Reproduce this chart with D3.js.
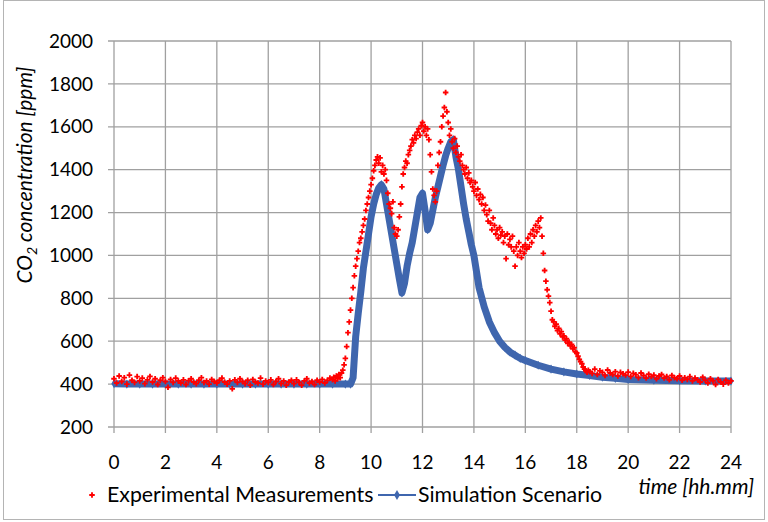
<!DOCTYPE html>
<html>
<head>
<meta charset="utf-8">
<script src="https://cdn.jsdelivr.net/npm/d3@7"></script>
<style>
  body { margin: 0; background: #fff; }
  text { font-family: Lato, "Open Sans", sans-serif; fill: #000; }
</style>
</head>
<body>
<div id="chart"></div>
<script>
// tick labels
xTicks = [0, 2, 4, 6, 8, 10, 12, 14, 16, 18, 20, 22, 24];
yTicks = [200, 400, 600, 800, 1000, 1200, 1400, 1600, 1800, 2000];

// simulation scenario (time in hours, CO2 ppm)
simTime = [0, 0.5, 1, 1.5, 2, 2.5, 3, 3.5, 4, 4.5, 5, 5.5, 6, 6.5, 7, 7.5, 8, 8.5, 9, 9.2,
    9.3, 9.4, 9.5, 9.6, 9.7, 9.8, 9.9, 10.0, 10.1, 10.2, 10.3, 10.4, 10.5, 10.6, 10.7, 10.8, 10.9,
    11.0, 11.1, 11.2, 11.3, 11.4, 11.5, 11.6, 11.7, 11.8, 11.9, 12.0, 12.1, 12.2, 12.3, 12.4, 12.5,
    12.6, 12.7, 12.8, 12.9, 13.0, 13.1, 13.2, 13.3, 13.4, 13.5, 13.6, 13.7, 13.8, 13.9, 14.0, 14.2,
    14.4, 14.6, 14.8, 15.0, 15.2, 15.4, 15.6, 15.8, 16.0, 16.5, 17.0, 17.5, 18.0, 18.5, 19.0, 19.5,
    20.0, 21, 22, 23, 24];
simValue = [402, 400, 400, 400, 400, 400, 400, 400, 400, 400, 400, 400, 400, 400, 400, 400, 400, 400, 400, 400,
    430, 620, 730, 830, 940, 1020, 1100, 1180, 1240, 1285, 1315, 1330, 1310, 1240, 1170, 1100, 1030,
    960, 890, 825, 870, 950, 1010, 1060, 1130, 1200, 1270, 1290, 1210, 1120, 1150, 1210, 1270,
    1320, 1370, 1420, 1465, 1500, 1530, 1540, 1460, 1400, 1320, 1240, 1170, 1110, 1050, 1000, 850,
    760, 690, 640, 600, 572, 550, 535, 520, 510, 488, 470, 457, 447, 440, 432, 427,
    422, 418, 416, 415, 414];

// experimental measurements, night before occupation (from 0 h, every 0.1 h)
expStart = [425, 405, 438, 412, 430, 400, 442, 418, 408, 435,
    415, 428, 402, 420, 436, 410, 425, 398, 418, 430,
    412, 385, 422, 408, 428, 415, 405, 420, 398, 416,
    425, 410, 402, 418, 430, 408, 415, 400, 422, 412,
    405, 418, 428, 410, 400, 415, 378, 420, 408, 425,
    412, 402, 418, 395, 422, 410, 405, 428, 400, 415,
    408, 420, 398, 412, 425, 402, 415, 395, 410, 418,
    402, 420, 408, 395, 415, 425, 405, 412, 398, 418,
    410, 422, 405, 418, 428];

// experimental measurements, occupied period (from 8.5 h, every 0.05 h)
expMid = [420, 432, 415, 438, 425, 445, 430, 452, 465, 490,
    520, 575, 640, 690, 745, 800, 850, 905, 950, 985,
    1020, 1060, 1080, 1110, 1140, 1170, 1210, 1240, 1270, 1300,
    1330, 1360, 1395, 1420, 1445, 1460, 1430, 1455, 1390, 1420,
    1380, 1400, 1350, 1290, 1240, 1220, 1195, 1250, 1130, 1100,
    1090, 1120, 1180, 1240, 1320, 1380, 1410, 1440, 1430, 1470,
    1490, 1510, 1540, 1525, 1560, 1545, 1575, 1590, 1560, 1605,
    1620, 1580, 1600, 1560, 1590, 1540, 1470, 1390, 1310, 1280,
    1250, 1300, 1420, 1480, 1530, 1600, 1650, 1690, 1760, 1670,
    1620, 1560, 1590, 1530, 1500, 1545, 1480, 1510, 1460, 1440,
    1470, 1420, 1400, 1380, 1410, 1360, 1385, 1340, 1350, 1320,
    1300, 1340, 1280, 1310, 1260, 1285, 1240, 1270, 1210, 1235,
    1190, 1160, 1210, 1150, 1120, 1175, 1140, 1100, 1120, 1080,
    1130, 1095, 1110, 1060, 1090, 985, 1100, 1050, 1075, 1040,
    1090, 1020, 950, 1040, 1000, 1060, 1020, 990, 1040, 1010,
    1050, 1030, 1080, 1040, 1100, 1060, 1120, 1090, 1140, 1110,
    1160, 1130, 1175, 1090, 1010, 930, 880, 840, 810, 780,
    740, 700, 690, 670, 680, 650, 660, 635, 645, 620,
    625, 605, 612, 590, 596, 578, 585, 565, 570, 550,
    545, 530, 515, 505, 495, 480, 470, 462, 455, 465,
    458];

// experimental measurements, evening (from 18.6 h, every 0.1 h)
expEnd = [450, 470, 445, 462, 455, 440, 466, 452, 445, 458,
    438, 455, 448, 442, 456, 436, 450, 444, 430, 452,
    440, 428, 446, 435, 442, 425, 438, 445, 428, 436,
    420, 440, 430, 425, 438, 418, 430, 422, 435, 415,
    428, 420, 410, 432, 418, 405, 425, 415, 398, 422,
    410, 400, 418, 405, 415];

width = 768;
height = 522;
plot = { left: 114, right: 731, top: 41, bottom: 427 };
gridColor = "#a0a0a0";
redColor = "#ff0000";
blueColor = "#3f66ae";

/* Scale */
xScale = d3.scaleLinear().domain([0, 24]).range([plot.left, plot.right]);
yScale = d3.scaleLinear().domain([200, 2000]).range([plot.bottom, plot.top]);

svg = d3.select("#chart").append("svg")
    .attr("width", width)
    .attr("height", height);

/* chart border */
svg.append("rect")
    .attr("x", 3.5).attr("y", 0.5)
    .attr("width", 761).attr("height", 519)
    .attr("fill", "none")
    .attr("stroke", "#b4b4b4")
    .attr("stroke-width", 1);

/* grid */
svg.append("g").selectAll("line")
    .data(yTicks).enter()
    .append("line")
    .attr("x1", plot.left - 6).attr("x2", plot.right)
    .attr("y1", d => yScale(d)).attr("y2", d => yScale(d))
    .attr("stroke", gridColor).attr("stroke-width", 1.3);

svg.append("g").selectAll("line")
    .data(xTicks).enter()
    .append("line")
    .attr("x1", d => xScale(d)).attr("x2", d => xScale(d))
    .attr("y1", plot.top).attr("y2", plot.bottom + 6)
    .attr("stroke", gridColor).attr("stroke-width", 1.3);

/* tick labels */
svg.append("g").selectAll("text")
    .data(yTicks).enter()
    .append("text")
    .attr("x", 93)
    .attr("y", d => yScale(d))
    .attr("dy", "0.35em")
    .attr("text-anchor", "end")
    .style("font-size", "19px")
    .text(d => d);

svg.append("g").selectAll("text")
    .data(xTicks).enter()
    .append("text")
    .attr("x", d => xScale(d))
    .attr("y", 462)
    .attr("dy", "0.35em")
    .attr("text-anchor", "middle")
    .style("font-size", "19px")
    .text(d => d);

/* axis titles */
yTitle = svg.append("text")
    .attr("transform", "translate(32,175) rotate(-90)")
    .attr("text-anchor", "middle")
    .style("font-size", "21px")
    .style("font-style", "italic");
yTitle.append("tspan").text("CO");
yTitle.append("tspan").attr("dy", 5).style("font-size", "14px").text("2");
yTitle.append("tspan").attr("dy", -5).text(" concentration [ppm]");

svg.append("text")
    .attr("x", 754)
    .attr("y", 487)
    .attr("dy", "0.35em")
    .attr("text-anchor", "end")
    .style("font-size", "21px")
    .style("font-style", "italic")
    .text("time [hh.mm]");

/* data */
simData = simTime.map((t, i) => ({ t: t, v: simValue[i] }));
expData = [];
expStart.forEach((v, i) => expData.push({ t: i * 0.1, v: v }));
expMid.forEach((v, i) => expData.push({ t: 8.5 + i * 0.05, v: v }));
expEnd.forEach((v, i) => expData.push({ t: 18.6 + i * 0.1, v: v }));

line = d3.line()
    .x(d => xScale(d.t))
    .y(d => yScale(d.v));

svg.append("path")
    .datum(simData)
    .attr("d", line)
    .attr("fill", "none")
    .attr("stroke", blueColor)
    .attr("stroke-width", 7)
    .attr("stroke-linejoin", "round");

diamond = d3.symbol().type(d3.symbolDiamond).size(24);
svg.append("g").selectAll("path")
    .data(simData).enter()
    .append("path")
    .attr("d", diamond)
    .attr("transform", d => `translate(${xScale(d.t)},${yScale(d.v)})`)
    .attr("fill", blueColor);

cross = d3.symbol().type(d3.symbolCross).size(17);
svg.append("g").selectAll("path")
    .data(expData).enter()
    .append("path")
    .attr("d", cross)
    .attr("transform", d => `translate(${xScale(d.t)},${yScale(d.v)})`)
    .attr("fill", redColor);

/* legend */
legend = svg.append("g");
legend.append("path")
    .attr("d", cross)
    .attr("transform", "translate(92,495)")
    .attr("fill", redColor);
legend.append("text")
    .attr("x", 107).attr("y", 495)
    .attr("dy", "0.35em")
    .style("font-size", "21.3px")
    .text("Experimental Measurements");
legend.append("line")
    .attr("x1", 378).attr("x2", 416)
    .attr("y1", 495).attr("y2", 495)
    .attr("stroke", blueColor).attr("stroke-width", 2);
legend.append("path")
    .attr("d", d3.symbol().type(d3.symbolDiamond).size(30))
    .attr("transform", "translate(397,495)")
    .attr("fill", blueColor);
legend.append("text")
    .attr("x", 418).attr("y", 495)
    .attr("dy", "0.35em")
    .style("font-size", "21.3px")
    .text("Simulation Scenario");
</script>
</body>
</html>
